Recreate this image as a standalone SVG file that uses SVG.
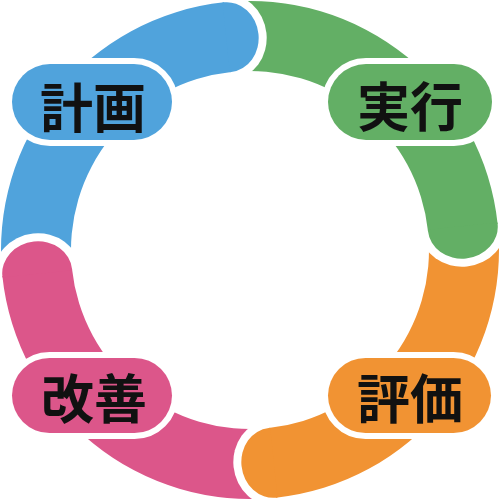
<svg xmlns="http://www.w3.org/2000/svg" width="500" height="500" viewBox="0 0 500 500">
<style>
.pill{stroke:#fff;stroke-width:12;paint-order:stroke}
.lbl{font-family:"Noto Sans CJK JP","Noto Sans CJK SC",sans-serif;font-weight:700;font-size:53px;fill:#111;text-anchor:middle;dominant-baseline:central}
.b{fill:#50A3DC}.g{fill:#63AF65}.o{fill:#F19333}.p{fill:#DC568A}
</style>
<defs>
<path id="band" d="M 250 1 A 249 249 0 0 1 499 250 L 429 250 A 179 179 0 0 0 250 71 Z"/>
<path id="halo" d="M 507 250 A 43 39 0 0 1 421 250 Z"/>
<path id="cap" d="M 499 248.5 L 499 250 A 35 31 0 0 1 429 250 L 429 248.5 Z"/>
</defs>
<rect width="500" height="500" fill="#fff"/>
<g id="connectors">
<use href="#band" class="b" transform="rotate(264 250 250)"/>
<use href="#band" class="g" transform="rotate(354 250 250)"/>
<use href="#band" class="o" transform="rotate(84 250 250)"/>
<use href="#band" class="p" transform="rotate(174 250 250)"/>
<use href="#halo" fill="#fff" transform="rotate(264 250 250)"/>
<use href="#cap" class="b" transform="rotate(264 250 250)"/>
<use href="#halo" fill="#fff" transform="rotate(354 250 250)"/>
<use href="#cap" class="g" transform="rotate(354 250 250)"/>
<use href="#halo" fill="#fff" transform="rotate(84 250 250)"/>
<use href="#cap" class="o" transform="rotate(84 250 250)"/>
<use href="#halo" fill="#fff" transform="rotate(174 250 250)"/>
<use href="#cap" class="p" transform="rotate(174 250 250)"/>
</g>
<g id="plan">
<rect class="pill b" x="12" y="64" width="160" height="76" rx="38"/>
<text class="lbl" x="93" y="105">計画</text>
</g>
<g id="do">
<rect class="pill g" x="328" y="64" width="164" height="76" rx="38"/>
<text class="lbl" x="410" y="104">実行</text>
</g>
<g id="check">
<rect class="pill o" x="328" y="358" width="163" height="75" rx="37.5"/>
<text class="lbl" x="410" y="396">評価</text>
</g>
<g id="act">
<rect class="pill p" x="12" y="358" width="160" height="75" rx="37.5"/>
<text class="lbl" x="94" y="396">改善</text>
</g>
</svg>
